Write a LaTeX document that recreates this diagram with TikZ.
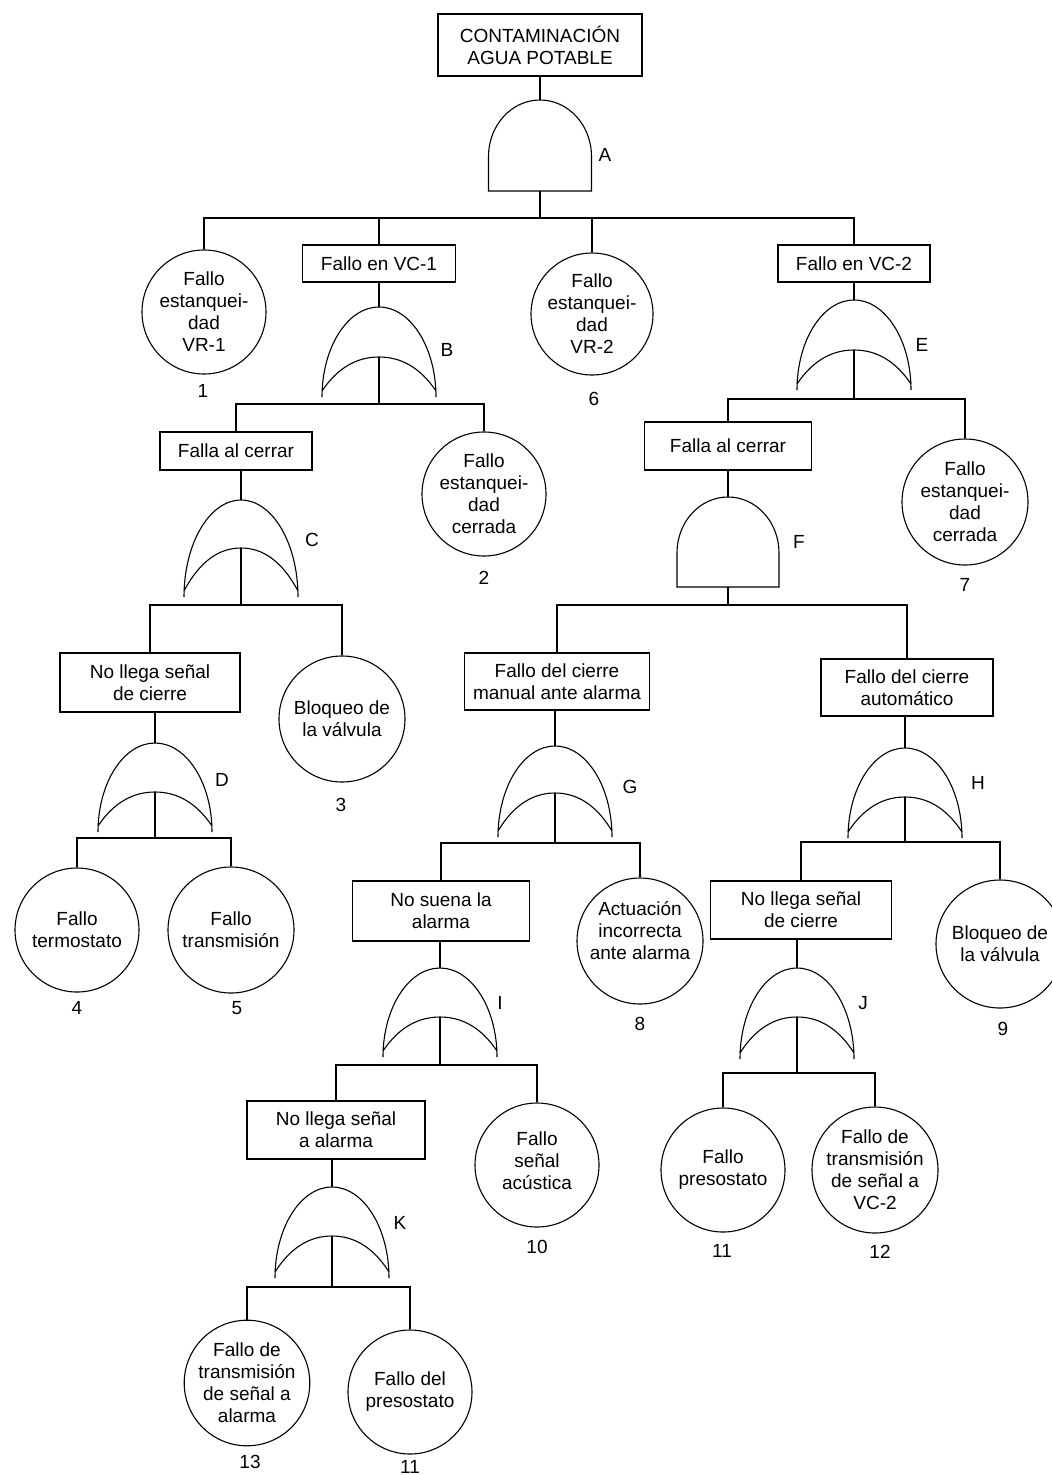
\documentclass[tikz,border=0pt]{standalone}
\usepackage{fontspec}
\setmainfont{Liberation Sans}
\newcommand\txtfont{\fontsize{19}{22}\selectfont}
\tikzset{
  lw/.style={line width=1.1pt},
  evbox/.style={draw, lw, rectangle, inner sep=0pt, align=center, font=\txtfont, fill=white},
  basic/.style={draw, lw, circle, inner sep=0pt, align=center, font=\txtfont},
  intext/.style={inner sep=0pt, align=center, font=\txtfont},
  num/.style={inner sep=0pt, font=\txtfont},
  glabel/.style={inner sep=0pt, font=\txtfont},
  conn/.style={lw},
  gate/.style={lw}
}
% AND gate: name, cx, top, bottom, half width
\newcommand\ANDgate[5]{%
  \pgfmathsetmacro\gL{#2-#5}\pgfmathsetmacro\gR{#2+#5}%
  \pgfmathsetmacro\gS{#3+0.62*(#4-#3)}%
  \pgfmathsetmacro\gC{\gS-0.552*(\gS-#3)}%
  \pgfmathsetmacro\gKL{#2-0.552*#5}\pgfmathsetmacro\gKR{#2+0.552*#5}%
  \draw[gate] (\gL,#4) -- (\gL,\gS) .. controls (\gL,\gC) and (\gKL,#3) .. (#2,#3)
     .. controls (\gKR,#3) and (\gR,\gC) .. (\gR,\gS) -- (\gR,#4) -- cycle;
  \coordinate (#1in) at (#2,#3);
  \coordinate (#1out) at (#2,#4);
}
% OR gate: name, cx, top, inner peak, bottom, half width
\newcommand\ORgate[6]{%
  \pgfmathsetmacro\gL{#2-#6}\pgfmathsetmacro\gR{#2+#6}%
  \pgfmathsetmacro\gC{#5-0.552*(#5-#3)}%
  \pgfmathsetmacro\gKL{#2-0.552*#6}\pgfmathsetmacro\gKR{#2+0.552*#6}%
  \pgfmathsetmacro\gE{#5-6}%
  \pgfmathsetmacro\gIC{#4+0.3*(\gE-#4)}%
  \pgfmathsetmacro\gIL{#2-0.72*#6}\pgfmathsetmacro\gIR{#2+0.72*#6}%
  \pgfmathsetmacro\gJL{#2-0.38*#6}\pgfmathsetmacro\gJR{#2+0.38*#6}%
  \draw[gate] (\gL,#5) .. controls (\gL,\gC) and (\gKL,#3) .. (#2,#3)
     .. controls (\gKR,#3) and (\gR,\gC) .. (\gR,#5);
  \draw[gate] (\gL,\gE) .. controls (\gIL,\gIC) and (\gJL,#4) .. (#2,#4)
     .. controls (\gJR,#4) and (\gIR,\gIC) .. (\gR,\gE);
  \coordinate (#1in) at (#2,#3);
  \coordinate (#1out) at (#2,#4);
}
\begin{document}
\begin{tikzpicture}[x=1pt,y=-1pt]
\fill[white] (0,0) rectangle (1052,1475);
\useasboundingbox (0,0) rectangle (1052,1475);

% ---------- event boxes ----------
\node[evbox, minimum width=204pt, minimum height=62pt] (top) at (540,45) {CONTAMINACIÓN\\AGUA POTABLE};
\node[evbox, minimum width=153pt, minimum height=37pt] (vc1) at (379,263.5) {Fallo en VC-1};
\node[evbox, minimum width=152pt, minimum height=37pt] (vc2) at (854,263.5) {Fallo en VC-2};
\node[evbox, minimum width=152pt, minimum height=38pt] (fc1) at (236,451) {Falla al cerrar};
\node[evbox, minimum width=167pt, minimum height=48pt] (fc2) at (728,446) {Falla al cerrar};
\node[evbox, minimum width=180pt, minimum height=59pt] (nls1) at (150,682.5) {No llega señal\\de cierre};
\node[evbox, minimum width=185pt, minimum height=57pt] (man) at (557,681.5) {Fallo del cierre\\manual ante alarma};
\node[evbox, minimum width=172pt, minimum height=57pt] (aut) at (907,687.5) {Fallo del cierre\\automático};
\node[evbox, minimum width=177pt, minimum height=60pt] (nsa) at (441,911) {No suena la\\alarma};
\node[evbox, minimum width=181pt, minimum height=58pt] (nls2) at (801,910) {No llega señal\\de cierre};
\node[evbox, minimum width=178pt, minimum height=58pt] (nlsa) at (336,1130) {No llega señal\\a alarma};

% ---------- basic events ----------
\node[basic, minimum size=124pt] (c1) at (204,312) {Fallo\\estanquei-\\dad\\VR-1};
\node[basic, minimum size=122pt] (c6) at (592,314) {Fallo\\estanquei-\\dad\\VR-2};
\node[basic, minimum size=124pt] (c2) at (484,494) {Fallo\\estanquei-\\dad\\cerrada};
\node[basic, minimum size=126pt] (c7) at (965,502) {Fallo\\estanquei-\\dad\\cerrada};
\node[basic, minimum size=126pt] (c3) at (342,719) {Bloqueo de\\la válvula};
\node[basic, minimum size=124pt] (c4) at (77,930) {Fallo\\termostato};
\node[basic, minimum size=126pt] (c5) at (231,930) {Fallo\\transmisión};
\node[basic, minimum size=126pt] (c8) at (640,941) {};
\node[intext] (c8t) at (c8.center) [yshift=10pt] {Actuación\\incorrecta\\ante alarma};
\node[basic, minimum size=128pt] (c9) at (1000,944) {Bloqueo de\\la válvula};
\node[basic, minimum size=124pt] (c10) at (537,1165) {};
\node[intext] (c10t) at (c10.center) [yshift=4pt] {Fallo\\señal\\acústica};
\node[basic, minimum size=124pt] (c11) at (723,1170) {Fallo\\presostato};
\node[basic, minimum size=126pt] (c12) at (875,1170) {Fallo de\\transmisión\\de señal a\\VC-2};
\node[basic, minimum size=124pt] (c13) at (247,1383) {Fallo de\\transmisión\\de señal a\\alarma};
\node[basic, minimum size=124pt] (c11b) at (410,1392) {Fallo del\\presostato};

% ---------- numbers ----------
\node[num] (n1) at (203,391) {1};
\node[num] (n6) at (594,399) {6};
\node[num] (n2) at (484,578) {2};
\node[num] (n7) at (965,585) {7};
\node[num] (n3) at (341,805) {3};
\node[num] (n4) at (77,1008) {4};
\node[num] (n5) at (237,1008) {5};
\node[num] (n8) at (640,1024) {8};
\node[num] (n9) at (1003,1029) {9};
\node[num] (n10) at (537,1247) {10};
\node[num] (n11) at (722,1251) {11};
\node[num] (n12) at (880,1252) {12};
\node[num] (n13) at (250,1462) {13};
\node[num] (n11c) at (410,1467) {11};

% ---------- gates ----------
\ANDgate{A}{540}{100}{191}{51.5}
\ORgate{B}{379}{307}{357}{397}{57}
\ORgate{E}{854}{300}{350}{390}{57}
\ORgate{C}{241}{500}{548}{597}{57}
\ANDgate{F}{728}{497}{587}{51}
\ORgate{D}{155}{743}{792}{832}{57}
\ORgate{G}{555}{746}{793}{837}{57}
\ORgate{H}{905}{748}{797}{838}{57}
\ORgate{I}{440}{968}{1017}{1057}{57}
\ORgate{J}{797}{968}{1017}{1059}{57}
\ORgate{K}{332}{1187}{1236}{1278}{57}

\node[glabel] (lA) at (605,155) {A};
\node[glabel] (lB) at (447,350) {B};
\node[glabel] (lE) at (922,345) {E};
\node[glabel] (lC) at (312,540) {C};
\node[glabel] (lF) at (799,542) {F};
\node[glabel] (lD) at (222,780) {D};
\node[glabel] (lG) at (630,787) {G};
\node[glabel] (lH) at (978,783) {H};
\node[glabel] (lI) at (500,1003) {I};
\node[glabel] (lJ) at (863,1003) {J};
\node[glabel] (lK) at (400,1223) {K};

% ---------- bus coordinates ----------
\coordinate (Abus) at (540,218);
\coordinate (Bbus) at (379,404);
\coordinate (Ebus) at (854,399);
\coordinate (Cbus) at (241,605);
\coordinate (Fbus) at (728,605);
\coordinate (Dbus) at (155,838);
\coordinate (Gbus) at (555,843);
\coordinate (Hbus) at (905,842);
\coordinate (Ibus) at (440,1065);
\coordinate (Jbus) at (797,1073);
\coordinate (Kbus) at (332,1287);

% ---------- connectors ----------
% event -> gate
\draw[conn] (Ain) -- (Ain |- top.south);
\draw[conn] (Bin) -- (Bin |- vc1.south);
\draw[conn] (Ein) -- (Ein |- vc2.south);
\draw[conn] (Cin) -- (Cin |- fc1.south);
\draw[conn] (Fin) -- (Fin |- fc2.south);
\draw[conn] (Din) -- (Din |- nls1.south);
\draw[conn] (Gin) -- (Gin |- man.south);
\draw[conn] (Hin) -- (Hin |- aut.south);
\draw[conn] (Iin) -- (Iin |- nsa.south);
\draw[conn] (Jin) -- (Jin |- nls2.south);
\draw[conn] (Kin) -- (Kin |- nlsa.south);
% gate -> bus
\foreach \g in {A,B,E,C,F,D,G,H,I,J,K} {\draw[conn] (\g out) -- (\g bus);}
% bus -> children
\draw[conn] (c1.north) |- (Abus);
\draw[conn] (vc1.north) |- (Abus);
\draw[conn] (c6.north) |- (Abus);
\draw[conn] (vc2.north) |- (Abus);
\draw[conn] (fc1.north) |- (Bbus);
\draw[conn] (c2.north) |- (Bbus);
\draw[conn] (fc2.north) |- (Ebus);
\draw[conn] (c7.north) |- (Ebus);
\draw[conn] (nls1.north) |- (Cbus);
\draw[conn] (c3.north) |- (Cbus);
\draw[conn] (man.north) |- (Fbus);
\draw[conn] (aut.north) |- (Fbus);
\draw[conn] (c4.north) |- (Dbus);
\draw[conn] (c5.north) |- (Dbus);
\draw[conn] (nsa.north) |- (Gbus);
\draw[conn] (c8.north) |- (Gbus);
\draw[conn] (nls2.north) |- (Hbus);
\draw[conn] (c9.north) |- (Hbus);
\draw[conn] (nlsa.north) |- (Ibus);
\draw[conn] (c10.north) |- (Ibus);
\draw[conn] (c11.north) |- (Jbus);
\draw[conn] (c12.north) |- (Jbus);
\draw[conn] (c13.north) |- (Kbus);
\draw[conn] (c11b.north) |- (Kbus);
\end{tikzpicture}
\end{document}
